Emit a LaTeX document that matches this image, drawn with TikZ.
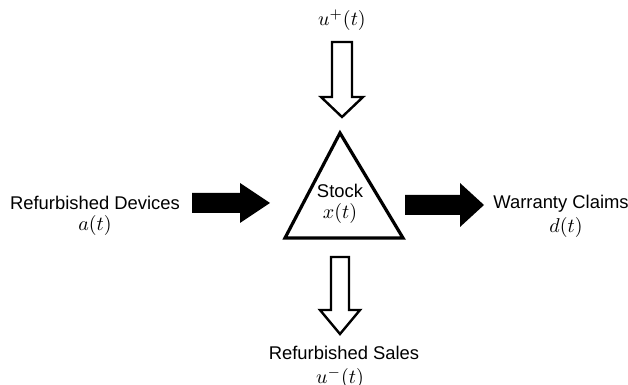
\documentclass[tikz,border=0pt]{standalone}
\usepackage{fontspec}
\setsansfont{Liberation Sans}
\begin{document}
\begin{tikzpicture}[x=0.5pt,y=-0.5pt,
  lbl/.style={font=\sffamily\fontsize{9.2}{11}\selectfont, inner sep=0pt},
  mth/.style={font=\fontsize{10.4}{12}\selectfont, inner sep=0pt},
  hollowarrow/.style={draw=black, fill=white, line width=1.2pt, line join=miter},
  solidarrow/.style={fill=black, draw=none},
  stockbox/.style={draw=black, fill=white, line width=1.6pt, line join=miter}]
\useasboundingbox (0,0) rectangle (628,385);
% triangle
\draw[stockbox] (340,133) -- (403,238) -- (285,238) -- cycle;
\node[lbl] (stock) at (340,191) {Stock};
\node[mth] (x) at (340,214) {$x(t)$};
% top hollow arrow
\node[mth] (up) at (342,20) {$u^{+}(t)$};
\draw[hollowarrow] (332,42) -- (352,42) -- (352,97) -- (363,97) -- (342,117) -- (321,97) -- (332,97) -- cycle;
% bottom hollow arrow
\draw[hollowarrow] (331,257) -- (349,257) -- (349,310) -- (360,310) -- (340,334) -- (320,310) -- (331,310) -- cycle;
\node[lbl] (sales) at (344,353) {Refurbished Sales};
\node[mth] (um) at (340,378) {$u^{-}(t)$};
% left solid arrow
\node[lbl] (dev) at (95,203) {Refurbished Devices};
\node[mth] (a) at (95,226) {$a(t)$};
\fill[solidarrow] (192,193) -- (240,193) -- (240,183) -- (270,203) -- (240,223) -- (240,213) -- (192,213) -- cycle;
% right solid arrow
\fill[solidarrow] (405,195) -- (460,195) -- (460,183) -- (484,205) -- (460,227) -- (460,215) -- (405,215) -- cycle;
\node[lbl] (war) at (561,204) {Warranty Claims};
\node[mth] (d) at (566,228) {$d(t)$};
\end{tikzpicture}
\end{document}
